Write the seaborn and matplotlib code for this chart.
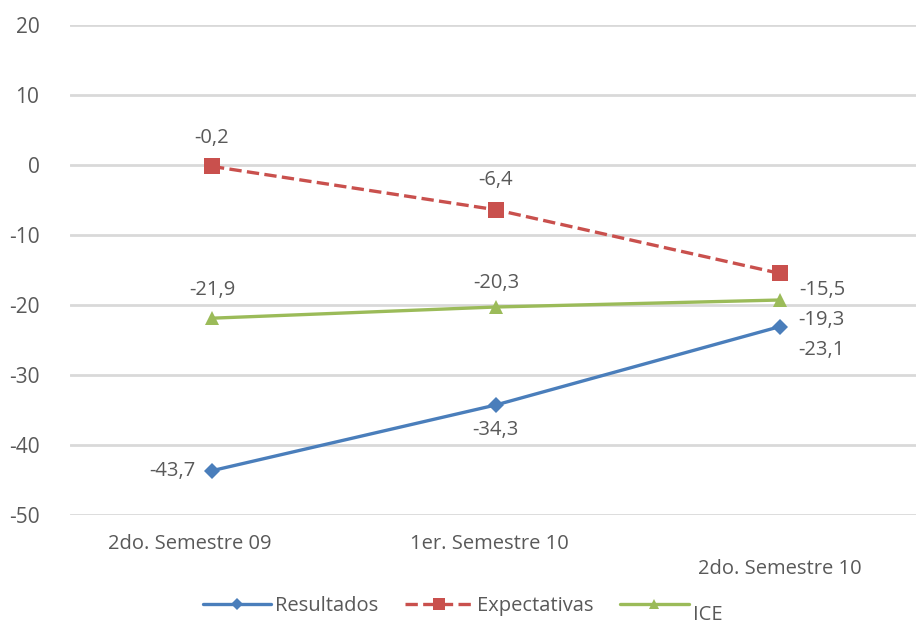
import numpy as np
import pandas as pd
import matplotlib
matplotlib.use("Agg")
import matplotlib.pyplot as plt
import matplotlib.transforms as mtransforms
import seaborn as sns

# Datos
periodos = ["2do. Semestre 09", "1er. Semestre 10", "2do. Semestre 10"]
resultados = [-43.7, -34.3, -23.1]
expectativas = [-0.2, -6.4, -15.5]
ice = [-21.9, -20.3, -19.3]

sns.set_theme(style="white")
plt.rcParams['font.family'] = ['Open Sans', 'DejaVu Sans']
plt.rcParams['axes.unicode_minus'] = False

x = np.arange(len(periodos))
df = pd.DataFrame({"x": np.tile(x, 3),
                   "valor": resultados + expectativas + ice,
                   "serie": ["Resultados"] * 3 + ["Expectativas"] * 3 + ["ICE"] * 3})

colores = {"Resultados": "#4a7ebb", "Expectativas": "#c9504d", "ICE": "#9bbb59"}
marcadores = {"Resultados": "D", "Expectativas": "s", "ICE": "^"}
estilos = {"Resultados": "-", "Expectativas": "--", "ICE": "-"}
tamanos = {"Resultados": 8, "Expectativas": 11, "ICE": 10}

fig = plt.figure(figsize=(9.16, 6.27), dpi=100)
ax = fig.add_axes([0.0764, 0.179, 0.93, 0.781])

for serie in ["Resultados", "Expectativas", "ICE"]:
    sub = df[df["serie"] == serie]
    sns.lineplot(data=sub, x="x", y="valor", ax=ax, color=colores[serie],
                 marker=marcadores[serie], markersize=tamanos[serie],
                 markeredgewidth=0, linestyle=estilos[serie], linewidth=2.4,
                 label=serie if serie != "ICE" else "\nICE", sort=False)

ax.set_ylim(-50, 20)
ax.set_xlim(-0.5, 2.5)
ax.set_yticks(range(-50, 21, 10))
ax.grid(axis="y", color="#d9d9d9", linewidth=2)
ax.set_axisbelow(True)
for s in ax.spines.values():
    s.set_visible(False)
ax.set_xlabel("")
ax.set_ylabel("")
ax.tick_params(axis="y", labelsize=15, colors="#595959", pad=22, length=0)

ax.set_xticks(x)
ax.set_xticklabels(periodos)
ax.tick_params(axis="x", labelsize=14.5, colors="#595959", length=0, pad=14)
ax.xaxis.get_major_ticks()[2].set_pad(32)
for lab, dx in zip(ax.get_xticklabels(), [-22, -7, 0]):
    lab.set_transform(lab.get_transform() + mtransforms.Affine2D().translate(dx, 0))

# Etiquetas de datos (desplazamiento en pixeles)
offsets = {
    "Resultados": [(-40, 0), (0, -25), (42, -23)],
    "Expectativas": [(0, 28), (0, 30), (42, -17)],
    "ICE": [(0, 28), (0, 24), (42, -20)],
}
series = {"Resultados": resultados, "Expectativas": expectativas, "ICE": ice}
for serie, vals in series.items():
    for xi, v, (dx, dy) in zip(x, vals, offsets[serie]):
        ax.annotate(f"{v:.1f}".replace(".", ","), (xi, v), textcoords="offset pixels",
                    xytext=(dx, dy), ha="center", va="center",
                    fontsize=14.5, color="#595959")

leg = ax.legend(loc="center", bbox_to_anchor=(0.505, 0.038), bbox_transform=fig.transFigure,
                ncol=3, frameon=False, fontsize=14.5, handlelength=3.4,
                handletextpad=0.2, columnspacing=1.3, markerscale=0.75)
for t in leg.get_texts():
    t.set_color("#595959")

fig.savefig("out.png", dpi=100)
